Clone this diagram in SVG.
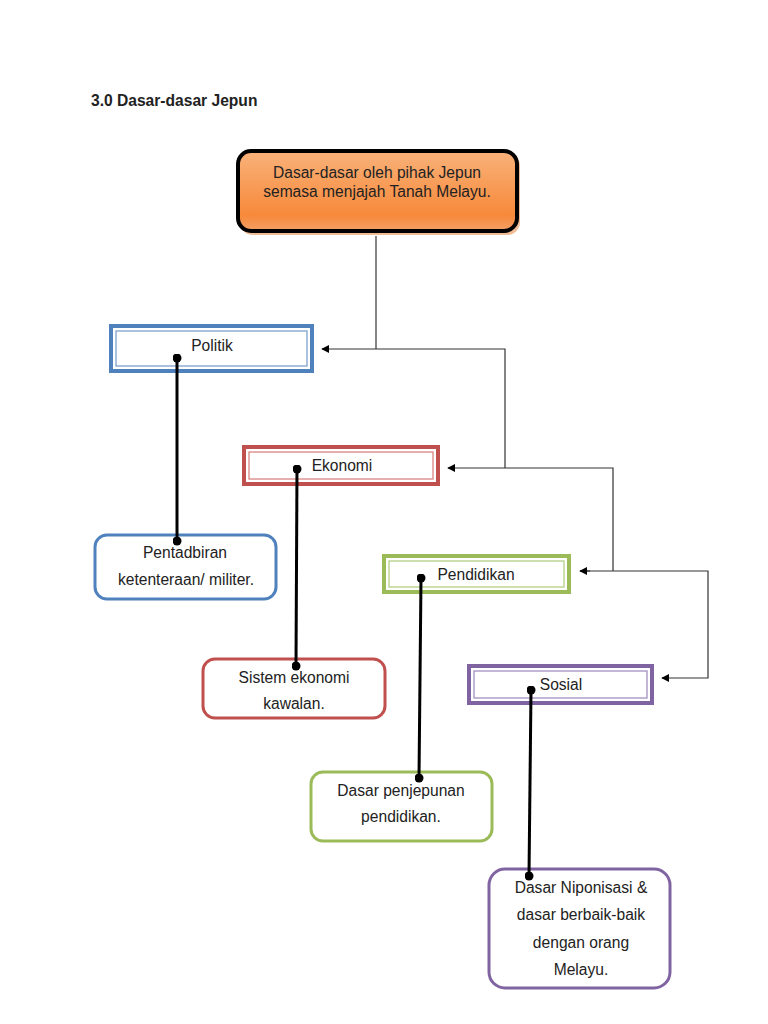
<svg xmlns="http://www.w3.org/2000/svg" width="768" height="1024" viewBox="0 0 768 1024">
<defs>
<linearGradient id="og" x1="0" y1="0" x2="0" y2="1">
<stop offset="0" stop-color="#f9b27a"/>
<stop offset="0.8" stop-color="#f7893a"/>
<stop offset="1" stop-color="#f4a066"/>
</linearGradient>
<marker id="ah" viewBox="0 0 10 10" refX="9" refY="5" markerWidth="8" markerHeight="8" markerUnits="userSpaceOnUse" orient="auto">
<path d="M0,0 L10,5 L0,10 z" fill="#000"/>
</marker>
<marker id="dot" viewBox="0 0 10 10" refX="5" refY="5" markerWidth="9" markerHeight="9" markerUnits="userSpaceOnUse">
<circle cx="5" cy="5" r="5" fill="#000"/>
</marker>
</defs>
<style>
text{font-family:"Liberation Sans",Arial,sans-serif;font-size:15.6px;fill:#222}
.c{text-anchor:middle}
.cat{fill:#fff;stroke-width:4}
.in{fill:none;stroke-width:1.3}
.leaf{fill:#fff;stroke-width:3}
.flow{fill:none;stroke:#333;stroke-width:1.2}
.stem{stroke:#000;stroke-width:3;marker-start:url(#dot);marker-end:url(#dot)}
</style>
<rect width="768" height="1024" fill="#fff"/>
<text x="91" y="106" style="font-weight:bold">3.0 Dasar-dasar Jepun</text>

<g id="root">
<rect x="240" y="153" width="280" height="82" rx="13" fill="#e07a30" opacity="0.5"/>
<rect x="238" y="151" width="279" height="80" rx="13" fill="url(#og)" stroke="#000" stroke-width="4"/>
<text class="c" x="377" y="178">Dasar-dasar oleh pihak Jepun</text>
<text class="c" x="377" y="197">semasa menjajah Tanah Melayu.</text>
</g>

<g id="politik">
<rect class="cat" x="111" y="326" width="201" height="45" stroke="#4f81bd"/>
<rect class="in" x="116" y="331" width="191" height="35" stroke="#7da0d0"/>
<text class="c" x="212" y="351">Politik</text>
</g>
<g id="ekonomi">
<rect class="cat" x="244" y="447" width="194" height="37" stroke="#c0504d"/>
<rect class="in" x="249" y="452" width="184" height="27" stroke="#d98583"/>
<text class="c" x="342" y="471">Ekonomi</text>
</g>
<g id="pendidikan">
<rect class="cat" x="384" y="556" width="185" height="36" stroke="#9bbb59"/>
<rect class="in" x="389" y="561" width="175" height="26" stroke="#b6cf85"/>
<text class="c" x="476" y="580">Pendidikan</text>
</g>
<g id="sosial">
<rect class="cat" x="469" y="666" width="183" height="37" stroke="#8064a2"/>
<rect class="in" x="474" y="671" width="173" height="27" stroke="#a390c0"/>
<text class="c" x="561" y="690">Sosial</text>
</g>

<g id="pentadbiran">
<rect class="leaf" x="95" y="535" width="181" height="64" rx="12" stroke="#4f81bd"/>
<text class="c" x="185" y="558">Pentadbiran</text>
<text class="c" x="186" y="585">ketenteraan/ militer.</text>
</g>
<g id="sistem">
<rect class="leaf" x="203" y="659" width="182" height="59" rx="12" stroke="#c0504d"/>
<text class="c" x="294" y="683">Sistem ekonomi</text>
<text class="c" x="294" y="709">kawalan.</text>
</g>
<g id="penjepunan">
<rect class="leaf" x="311" y="772" width="181" height="69" rx="12" stroke="#9bbb59"/>
<text class="c" x="401" y="796">Dasar penjepunan</text>
<text class="c" x="401" y="822">pendidikan.</text>
</g>
<g id="niponisasi">
<rect class="leaf" x="489" y="869" width="181" height="119" rx="16" stroke="#8064a2"/>
<text class="c" x="581" y="893">Dasar Niponisasi &amp;</text>
<text class="c" x="581" y="920">dasar berbaik-baik</text>
<text class="c" x="581" y="948">dengan orang</text>
<text class="c" x="581" y="975">Melayu.</text>
</g>

<g id="connectors">
<polyline class="flow" points="376,236 376,349"/>
<polyline class="flow" points="505,468 505,349 322,349" marker-end="url(#ah)"/>
<polyline class="flow" points="613,571 613,468 448,468" marker-end="url(#ah)"/>
<polyline class="flow" points="580,571 708,571 708,678 662,678" marker-end="url(#ah)"/>
<path class="flow" d="M590,571 L580,571" marker-end="url(#ah)"/>
<line class="stem" x1="177" y1="358" x2="177" y2="541"/>
<line class="stem" x1="297" y1="469" x2="296" y2="666"/>
<line class="stem" x1="421" y1="578" x2="419" y2="778"/>
<line class="stem" x1="531" y1="690" x2="529" y2="876"/>
</g>
</svg>
